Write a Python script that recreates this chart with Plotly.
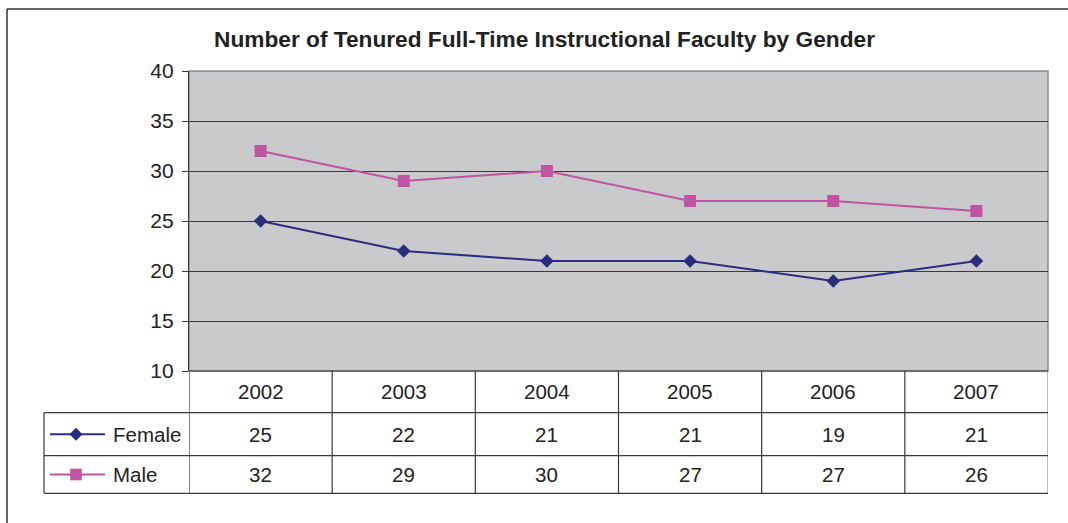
import plotly.graph_objects as go

# Data
years = ["2002", "2003", "2004", "2005", "2006", "2007"]
female = [25, 22, 21, 21, 19, 21]
male = [32, 29, 30, 27, 27, 26]
y_ticks = [10, 15, 20, 25, 30, 35, 40]

W, H = 1068, 523
FEMALE_C = "#2B2C7E"
MALE_C = "#C054A3"
LINE_C = "#3A3A3A"
FONT = "Liberation Sans, Arial, sans-serif"


def px(x):
    return x / W


def py(y):
    return 1 - y / H


# plot-area edges in pixels
L, R, T, B = 189, 1048, 71, 371
ROW1, ROW2, ROW3 = 412.7, 455.7, 493.3
TABLE_L = 44

xs = list(range(len(years)))

fig = go.Figure()
fig.add_trace(go.Scatter(
    x=xs, y=female, mode="lines+markers", name="Female",
    line=dict(color=FEMALE_C, width=2),
    marker=dict(symbol="diamond", size=10.5, color=FEMALE_C),
))
fig.add_trace(go.Scatter(
    x=xs, y=male, mode="lines+markers", name="Male",
    line=dict(color=MALE_C, width=2),
    marker=dict(symbol="square", size=12, color=MALE_C),
))

shapes = []
# plot area frame (top/right grey)
shapes.append(dict(type="rect", xref="paper", yref="paper",
                   x0=px(L), x1=px(R), y0=py(B), y1=py(T),
                   line=dict(color="#8A8A8A", width=1.5), layer="below"))
# chart outer border (left and top)
shapes.append(dict(type="line", xref="paper", yref="paper",
                   x0=px(7), x1=px(7), y0=py(9), y1=py(H + 5),
                   line=dict(color="#333", width=1.5)))
shapes.append(dict(type="line", xref="paper", yref="paper",
                   x0=px(7), x1=px(W + 5), y0=py(9), y1=py(9),
                   line=dict(color="#333", width=1.5)))

# data table: column separators at category boundaries
for i in range(len(years) + 1):
    xb = i - 0.5
    col = "#8A8A8A" if i == len(years) else LINE_C
    shapes.append(dict(type="line", xref="x", yref="paper",
                       x0=xb, x1=xb, y0=py(B), y1=py(ROW3),
                       line=dict(color=col, width=1.2)))
# table row lines
for yy in (ROW1, ROW2, ROW3):
    shapes.append(dict(type="line", xref="paper", yref="paper",
                       x0=px(TABLE_L), x1=px(R), y0=py(yy), y1=py(yy),
                       line=dict(color=LINE_C, width=1.2)))
shapes.append(dict(type="line", xref="paper", yref="paper",
                   x0=px(TABLE_L), x1=px(TABLE_L), y0=py(ROW1), y1=py(ROW3),
                   line=dict(color=LINE_C, width=1.2)))
shapes.append(dict(type="line", xref="paper", yref="paper",
                   x0=px(L), x1=px(R), y0=py(B), y1=py(B),
                   line=dict(color=LINE_C, width=1.2)))

# legend keys inside the table
row_mid_f = (ROW1 + ROW2) / 2
row_mid_m = (ROW2 + ROW3) / 2
for ym, col in ((row_mid_f, FEMALE_C), (row_mid_m, MALE_C)):
    shapes.append(dict(type="line", xref="paper", yref="paper",
                       x0=px(50), x1=px(105), y0=py(ym), y1=py(ym),
                       line=dict(color=col, width=2)))
cx, d = 76, 6.5
shapes.append(dict(type="path", xref="paper", yref="paper",
                   path=(f"M {px(cx - d)} {py(row_mid_f)} L {px(cx)} {py(row_mid_f - d)} "
                         f"L {px(cx + d)} {py(row_mid_f)} L {px(cx)} {py(row_mid_f + d)} Z"),
                   fillcolor=FEMALE_C, line=dict(width=0)))
s = 5.8
shapes.append(dict(type="rect", xref="paper", yref="paper",
                   x0=px(cx - s), x1=px(cx + s),
                   y0=py(row_mid_m + s), y1=py(row_mid_m - s),
                   fillcolor=MALE_C, line=dict(width=0)))

annotations = []
tf = dict(family=FONT, size=20.5, color="#222")
row_mid_y = (B + ROW1) / 2
for i, yr in enumerate(years):
    annotations.append(dict(x=i, y=py(row_mid_y), xref="x", yref="paper",
                            text=yr, showarrow=False, font=tf,
                            xanchor="center", yanchor="middle"))
    annotations.append(dict(x=i, y=py(row_mid_f), xref="x", yref="paper",
                            text=str(female[i]), showarrow=False, font=tf,
                            xanchor="center", yanchor="middle"))
    annotations.append(dict(x=i, y=py(row_mid_m), xref="x", yref="paper",
                            text=str(male[i]), showarrow=False, font=tf,
                            xanchor="center", yanchor="middle"))
annotations.append(dict(x=px(110.5), y=py(row_mid_f), xref="paper", yref="paper",
                        text="Female", showarrow=False, font=tf,
                        xanchor="left", yanchor="middle"))
annotations.append(dict(x=px(110.5), y=py(row_mid_m), xref="paper", yref="paper",
                        text="Male", showarrow=False, font=tf,
                        xanchor="left", yanchor="middle"))
# title
annotations.append(dict(x=px(544), y=py(39), xref="paper", yref="paper",
                        text="<b>Number of Tenured Full-Time Instructional Faculty by Gender</b>",
                        showarrow=False,
                        font=dict(family=FONT, size=22.7, color="#222"),
                        xanchor="center", yanchor="middle"))

fig.update_layout(
    width=W, height=H,
    margin=dict(l=0, r=0, t=0, b=0, autoexpand=False),
    paper_bgcolor="white",
    plot_bgcolor="#C9CACC",
    showlegend=False,
    xaxis=dict(domain=[px(L), px(R)], range=[-0.5, 5.5],
               showticklabels=False, showgrid=False, zeroline=False,
               ticks="", automargin=False),
    yaxis=dict(domain=[py(B), py(T)], range=[10, 40],
               tickvals=y_ticks, ticks="outside", ticklen=6,
               tickcolor=LINE_C, tickwidth=1.2,
               showgrid=True, gridcolor=LINE_C, gridwidth=1.3,
               showline=True, linecolor=LINE_C, linewidth=1.2,
               zeroline=False, ticklabelstandoff=4, automargin=False,
               tickfont=dict(family=FONT, size=21, color="#222")),
    shapes=shapes,
    annotations=annotations,
)

fig.write_html("out.html")
